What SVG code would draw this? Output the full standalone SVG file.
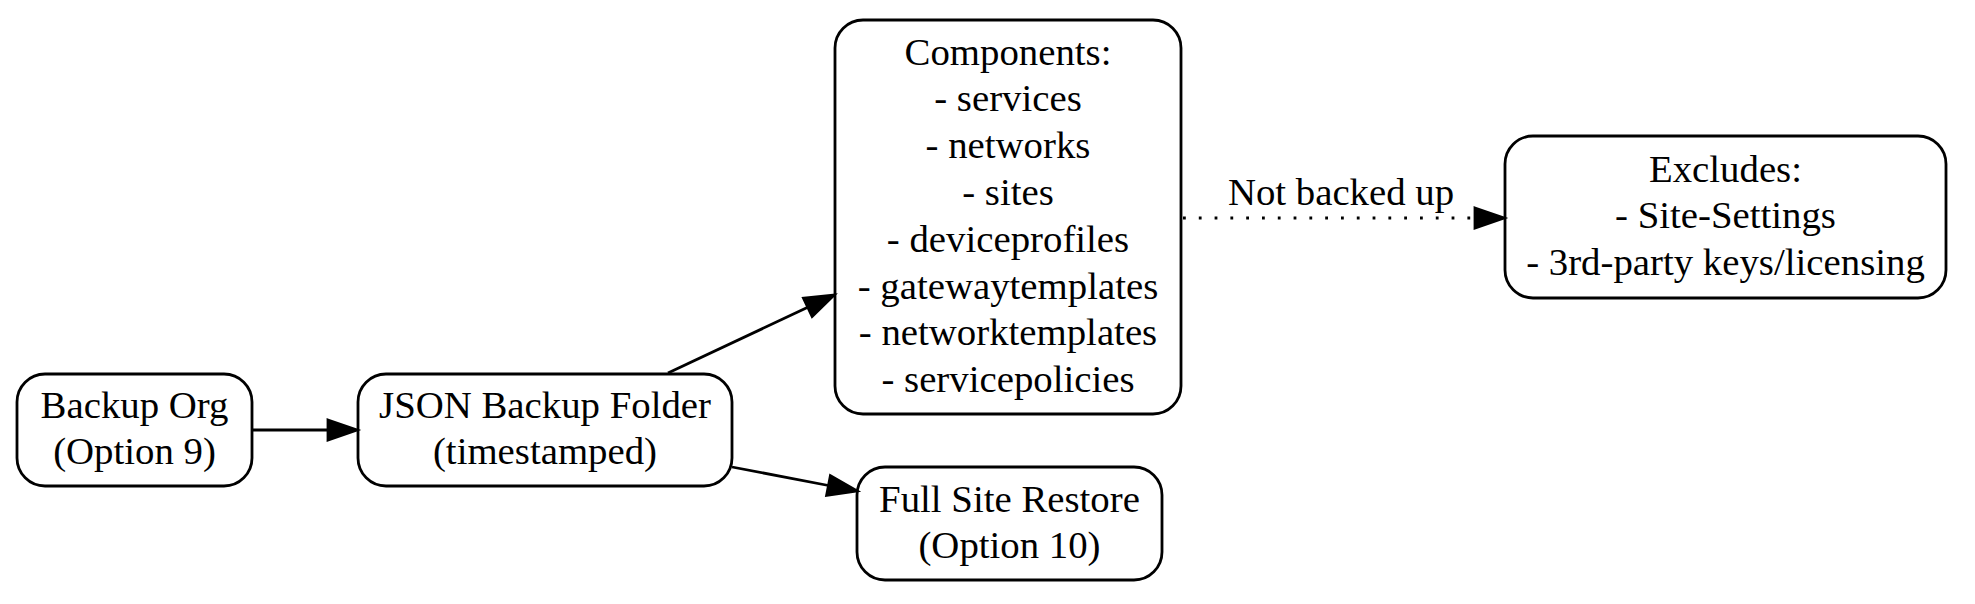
<svg xmlns="http://www.w3.org/2000/svg" width="1975" height="604" viewBox="0 0 1975 604">
<style>
.node rect{fill:#fff;stroke:#000;stroke-width:2.8}
text{font-family:"Liberation Serif","Times New Roman",serif;font-size:38.8px;fill:#000;text-anchor:middle}
.edge line{stroke:#000;stroke-width:2.8}
.edge polygon{fill:#000;stroke:#000;stroke-width:2.8}
.dotted{stroke-dasharray:2.8 13}
</style>
<rect width="1975" height="604" fill="#fff"/>
<g id="backup_org" class="node">
<rect x="17" y="374" width="235" height="112" rx="28"/>
<text x="134.5" y="418">Backup Org</text>
<text x="134.5" y="464">(Option 9)</text>
</g>
<g id="json_backup" class="node">
<rect x="358" y="374" width="374" height="112" rx="28"/>
<text x="545" y="418">JSON Backup Folder</text>
<text x="545" y="464">(timestamped)</text>
</g>
<g id="components" class="node">
<rect x="835" y="20" width="346" height="394" rx="28"/>
<text x="1008" y="64.5">Components:</text>
<text x="1008" y="111.3">- services</text>
<text x="1008" y="158.1">- networks</text>
<text x="1008" y="204.9">- sites</text>
<text x="1008" y="251.7">- deviceprofiles</text>
<text x="1008" y="298.5">- gatewaytemplates</text>
<text x="1008" y="345.3">- networktemplates</text>
<text x="1008" y="392.1">- servicepolicies</text>
</g>
<g id="full_site_restore" class="node">
<rect x="857" y="467" width="305" height="113" rx="28"/>
<text x="1009.5" y="511.5">Full Site Restore</text>
<text x="1009.5" y="558.3">(Option 10)</text>
</g>
<g id="excludes" class="node">
<rect x="1505" y="136" width="441" height="162" rx="28"/>
<text x="1725.5" y="181.5">Excludes:</text>
<text x="1725.5" y="228.3">- Site-Settings</text>
<text x="1725.5" y="275.1">- 3rd-party keys/licensing</text>
</g>
<g id="connectors" class="edge">
<line x1="252" y1="430" x2="328" y2="430"/>
<polygon points="328,420 357,430 328,440"/>
<line x1="668" y1="373" x2="807.8" y2="307.3"/>
<polygon points="812.1,316.4 834,295 803.5,298.3"/>
<line x1="732" y1="467" x2="828.5" y2="485.5"/>
<polygon points="826.6,495.3 857,491 830.4,475.7"/>
<line class="dotted" x1="1183" y1="218" x2="1475" y2="218"/>
<polygon points="1475,208 1504,218 1475,228"/>
<text x="1341" y="205">Not backed up</text>
</g>
</svg>
